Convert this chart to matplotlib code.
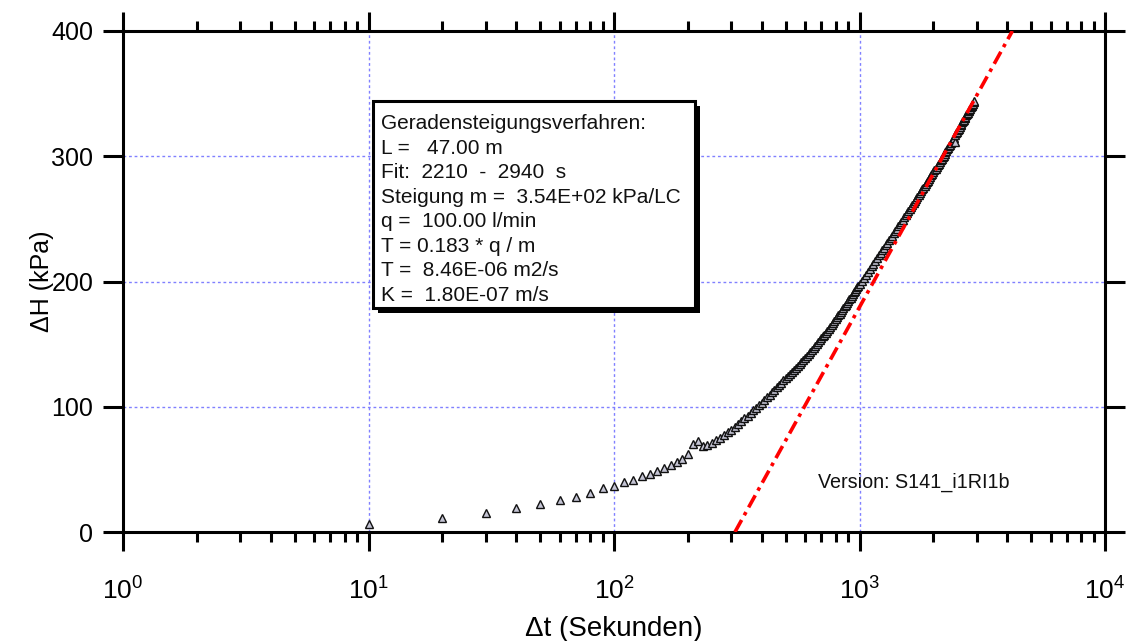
import matplotlib

matplotlib.use("Agg")
import matplotlib.pyplot as plt
import numpy as np
from matplotlib.patches import Rectangle
from matplotlib.ticker import LogLocator, MultipleLocator, NullFormatter, NullLocator

# measured pressure rise, time since start in seconds
time_s = [
    10, 20, 30, 40, 50, 60, 70, 80, 90, 100, 110, 120, 130, 140, 150, 160, 170, 180, 190, 200,
    210, 220, 230, 240, 250, 260, 270, 280, 290, 300, 310, 320, 330, 340, 350, 360, 370, 380,
    390, 400, 410, 420, 430, 440, 450, 460, 470, 480, 490, 500, 510, 520, 530, 540, 550, 560,
    570, 580, 590, 600, 610, 620, 630, 640, 650, 660, 670, 680, 690, 700, 710, 720, 730, 740,
    750, 760, 770, 780, 790, 800, 810, 820, 830, 840, 850, 860, 870, 880, 890, 900, 910, 920,
    930, 940, 950, 960, 970, 980, 990, 1000,
    1020, 1040, 1060, 1080, 1100, 1120, 1140, 1160, 1180, 1200, 1220, 1240, 1260, 1280, 1300,
    1320, 1340, 1360, 1380, 1400, 1420, 1440, 1460, 1480, 1500, 1520, 1540, 1560, 1580, 1600,
    1620, 1640, 1660, 1680, 1700, 1720, 1740, 1760, 1780, 1800, 1820, 1840, 1860, 1880, 1900,
    1920, 1940, 1960, 1980, 2000, 2020, 2040, 2060, 2080, 2100, 2120, 2140, 2160, 2180, 2200,
    2220, 2240, 2260, 2280, 2300, 2320, 2340, 2360, 2380, 2400, 2420, 2440, 2460, 2480, 2500,
    2520, 2540, 2560, 2580, 2600, 2620, 2640, 2660, 2680, 2700, 2720, 2740, 2760, 2780, 2800,
    2820, 2840, 2860, 2880, 2900, 2920, 2940,
]
delta_h = [
    6.4, 11.5, 15.0, 19.4, 22.4, 25.8, 28.0, 31.0, 35.0, 36.7, 40.0, 41.3, 44.4, 46.5, 49.0,
    50.8, 53.2, 55.6, 58.5, 62.0, 70.0, 72.4, 69.0, 69.4, 71.3, 73.2, 75.2, 77.3, 79.5, 81.8,
    84.0, 86.3, 88.5, 90.7, 92.9, 95.0, 97.1, 99.2, 101.2, 103.2, 105.4, 107.5, 109.6, 111.6,
    113.6, 115.5, 117.4, 119.3, 121.1, 122.9, 124.6, 126.3, 128.0, 129.6, 131.2, 132.8, 134.4,
    135.9, 137.5, 139.0, 140.6, 142.2, 143.8, 145.4, 147.0, 148.5, 150.0, 151.5, 153.0, 154.5,
    156.1, 157.6, 159.2, 160.7, 162.3, 163.8, 165.4, 166.9, 168.5, 170.0, 171.5, 172.9, 174.4,
    175.8, 177.3, 178.7, 180.2, 181.6, 183.1, 184.5, 185.9, 187.2, 188.6, 189.9, 191.3, 192.6,
    194.0, 195.3, 196.7, 198.0,
    200.4, 202.8, 205.2, 207.5, 209.8, 212.0, 214.3, 216.5, 218.8, 221.0, 223.0, 225.0, 227.0,
    228.9, 230.9, 232.8, 234.8, 236.7, 238.6, 240.5, 242.3, 244.1, 245.9, 247.6, 249.4, 251.1,
    252.9, 254.6, 256.3, 258.0, 259.6, 261.2, 262.8, 264.3, 265.9, 267.4, 269.0, 270.5, 272.0,
    273.5, 275.0, 276.4, 277.8, 279.2, 280.6, 282.0, 283.4, 284.8, 286.2, 287.5, 288.8, 290.1,
    291.5, 292.8, 294.1, 295.4, 296.7, 297.9, 299.2, 300.5, 301.8, 303.0, 304.3, 305.5, 306.8,
    308.0, 309.3, 310.5, 311.8, 313.0, 314.3, 311.0, 316.9, 318.2, 319.5, 320.8, 322.1, 323.4,
    324.7, 326.0, 327.1, 328.2, 329.3, 330.4, 331.5, 332.6, 333.7, 334.8, 335.9, 337.0, 338.0,
    339.0, 340.0, 341.0, 342.0, 343.0, 344.0,
]

# straight-line fit (Cooper-Jacob): slope per log cycle and time where it crosses 0
fit_slope = 354.0
fit_t0 = 311.0

info_lines = [
    "Geradensteigungsverfahren:",
    "L =   47.00 m",
    "Fit:  2210  -  2940  s",
    "Steigung m =  3.54E+02 kPa/LC",
    "q =  100.00 l/min",
    "T = 0.183 * q / m",
    "T =  8.46E-06 m2/s",
    "K =  1.80E-07 m/s",
]
version_text = "Version: S141_i1RI1b"

W, H = 1129, 641

plt.rcParams.update(
    {
        "font.family": ["Liberation Sans", "DejaVu Sans"],
        "mathtext.fontset": "custom",
        "mathtext.rm": "Liberation Sans",
        "mathtext.it": "Liberation Sans",
        "mathtext.default": "regular",
    }
)

fig = plt.figure(figsize=(W / 100, H / 100), dpi=100)
ax = fig.add_axes([123 / W, 1 - 532 / H, (1105 - 123) / W, (532 - 31) / H])

ax.set_xscale("log")
ax.set_xlim(1, 1e4)
ax.set_ylim(0, 400)

ax.plot(
    time_s,
    delta_h,
    linestyle="none",
    marker="^",
    markersize=5.5,
    markerfacecolor="#c4c4d4",
    markeredgecolor="#111111",
    markeredgewidth=1.0,
    zorder=3,
)

t_top = fit_t0 * 10 ** (400 / fit_slope)
t_fit = np.array([fit_t0, t_top])
h_fit = fit_slope * (np.log10(t_fit) - np.log10(fit_t0))
ax.plot(t_fit, h_fit, color="#ff0000", linewidth=2.6,
        linestyle=(0, (3.8, 1.5, 1.0, 1.5)), zorder=4)

ax.xaxis.set_major_locator(LogLocator(base=10, numticks=10))
ax.xaxis.set_minor_locator(LogLocator(base=10, subs=np.arange(2, 10), numticks=20))
ax.xaxis.set_minor_formatter(NullFormatter())
ax.yaxis.set_major_locator(MultipleLocator(100))
ax.yaxis.set_minor_locator(NullLocator())

ax.grid(which="major", color="#8080ff", linestyle=(0, (2, 2)), linewidth=1.0)
for s in ax.spines.values():
    s.set_linewidth(2.2)
    s.set_color("black")

ax.tick_params(axis="x", which="major", direction="out", top=True, bottom=True,
               length=13.7, width=2.2, labelsize=19, pad=19)
ax.tick_params(axis="x", which="minor", direction="out", top=True, bottom=True,
               length=7.2, width=2.2)
ax.tick_params(axis="y", which="major", direction="out", left=True, right=True,
               length=14.4, width=2.2, labelsize=18, pad=7)

ax.set_xlabel("\u0394t (Sekunden)", fontsize=20, labelpad=8)
ax.set_ylabel("\u0394H (kPa)", fontsize=18, labelpad=-2)


def fx(px):
    return px / W


def fy(py):
    return 1 - py / H


# info box with drop shadow
bx0, bx1, by0, by1 = 373, 695, 101, 308
shadow = Rectangle((fx(bx0 + 5), fy(by1 + 5)), fx(bx1 - bx0), (by1 - by0) / H,
                   transform=fig.transFigure, facecolor="black", edgecolor="none", zorder=5)
box = Rectangle((fx(bx0), fy(by1)), fx(bx1 - bx0), (by1 - by0) / H,
                transform=fig.transFigure, facecolor="white", edgecolor="black",
                linewidth=2.2, zorder=6)
fig.add_artist(shadow)
fig.add_artist(box)
fig.text(fx(381), fy(114), "\n".join(info_lines), fontsize=15.0, linespacing=1.37,
         ha="left", va="top", color="#111111", zorder=7)

fig.text(fx(818), fy(482), version_text, fontsize=14.2, ha="left", va="center",
         color="#111111", zorder=7)

fig.savefig("out.png", dpi=100)
